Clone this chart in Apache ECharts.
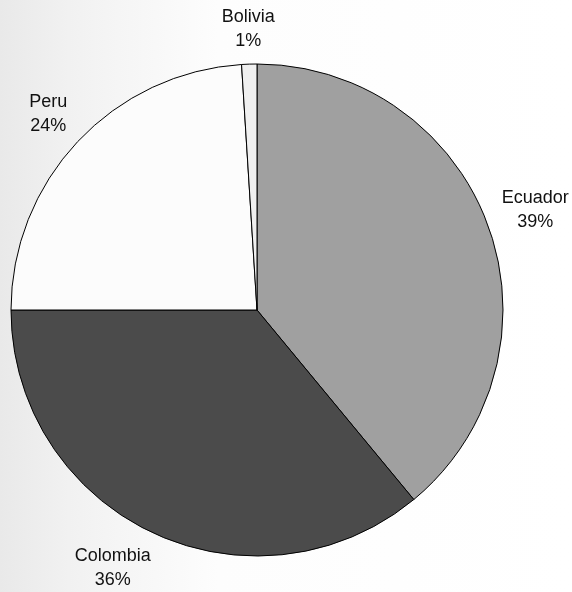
<!DOCTYPE html>
<html>
<head>
<meta charset="utf-8">
<script src="https://cdn.jsdelivr.net/npm/echarts@6/dist/echarts.min.js"></script>
<style>
  html, body { margin: 0; padding: 0; background: #fff; }
  #chart { width: 572px; height: 592px; }
</style>
</head>
<body>
<div id="chart"></div>
<script>
// Share by country (percent), drawn clockwise from 12 o'clock
const countries = ['Ecuador', 'Colombia', 'Peru', 'Bolivia'];
const shares = [39, 36, 24, 1];
const sliceColors = ['#a0a0a0', '#4b4b4b', '#fcfcfc', '#f0f0f0'];

const pieCenter = [257, 310];
const pieRadius = 246;
const labelGap = 10;
const chartH = 592, edgeMargin = 0;

const total = shares.reduce((a, b) => a + b, 0);

const chart = echarts.init(document.getElementById('chart'), null, { renderer: 'canvas' });

// centre of a label box of half-size (hw, hh) sitting just outside the rim at angle a
function labelCentre(a, hw, hh) {
  const sx = Math.sin(a), sy = -Math.cos(a);
  const r = pieRadius + labelGap + hw * Math.abs(sx) + hh * Math.abs(sy);
  return [pieCenter[0] + r * sx, pieCenter[1] + r * sy];
}

chart.setOption({
  animation: false,
  backgroundColor: {
    type: 'linear', x: 0, y: 0, x2: 1, y2: 0,
    colorStops: [
      { offset: 0, color: '#e9e9e9' },
      { offset: 0.12, color: '#f1f1f1' },
      { offset: 0.38, color: '#fdfdfd' },
      { offset: 1, color: '#ffffff' }
    ]
  },
  series: [{
    type: 'pie',
    center: pieCenter,
    radius: pieRadius,
    startAngle: 90,
    clockwise: true,
    data: countries.map((name, i) => ({
      name: name,
      value: shares[i],
      itemStyle: { color: sliceColors[i] }
    })),
    itemStyle: { borderColor: '#000', borderWidth: 1 },
    label: {
      show: true,
      position: 'outside',
      formatter: p => p.name + '\n' + Math.round(p.percent) + '%',
      fontFamily: 'Liberation Sans, Arial, sans-serif',
      fontSize: 18,
      lineHeight: 24,
      color: '#111',
      align: 'center',
      overflow: 'none'
    },
    labelLine: { show: false },
    emphasis: { disabled: true },
    // place each label just outside the rim along the slice's mid-angle,
    // sliding it round the rim when it would leave the canvas
    labelLayout: function (p) {
      const idx = p.dataIndex;
      let before = 0;
      for (let i = 0; i < idx; i++) before += shares[i];
      let a = (before + shares[idx] / 2) / total * Math.PI * 2;
      const hw = p.labelRect.width / 2, hh = p.labelRect.height / 2;
      let c = labelCentre(a, hw, hh);
      for (let k = 0; k < 400; k++) {
        const out = c[1] + hh > chartH - edgeMargin || c[1] - hh < 0;
        if (!out) break;
        // move away from the nearest vertical (top or bottom of the rim)
        const dir = Math.sin(a) * Math.cos(a) > 0 ? 1 : -1;
        a += dir * Math.PI / 900;
        c = labelCentre(a, hw, hh);
      }
      return { x: c[0], y: c[1], align: 'center', verticalAlign: 'middle' };
    }
  }]
});
</script>
</body>
</html>
